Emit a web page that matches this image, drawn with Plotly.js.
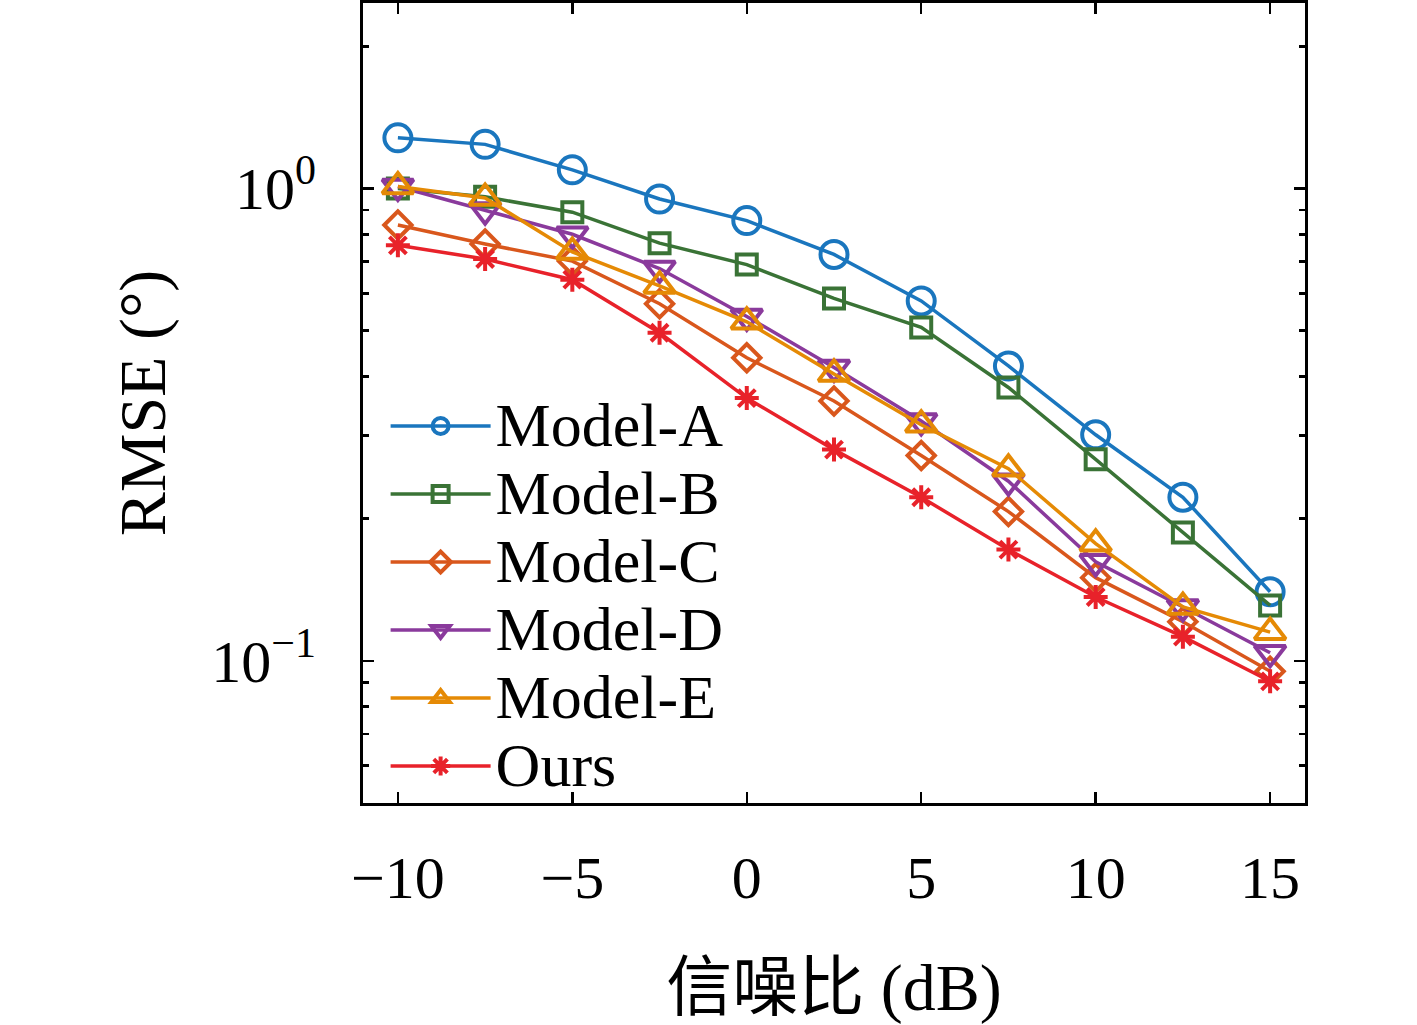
<!DOCTYPE html>
<html><head><meta charset="utf-8">
<script src="https://cdn.plot.ly/plotly-3.0.1.min.js"></script>
<style>html,body{margin:0;padding:0;background:#fff}</style>
</head><body>
<div id="chart" style="width:1417px;height:1025px"></div>
<script>
// ---- data ----
const snr = [-10, -7.5, -5, -2.5, 0, 2.5, 5, 7.5, 10, 12.5, 15];
const modelA = [1.28, 1.24, 1.095, 0.95, 0.855, 0.725, 0.578, 0.421, 0.301, 0.222, 0.140];
const modelB = [1.00, 0.96, 0.891, 0.766, 0.690, 0.585, 0.508, 0.379, 0.267, 0.187, 0.131];
const modelC = [0.837, 0.763, 0.702, 0.570, 0.438, 0.355, 0.272, 0.207, 0.150, 0.121, 0.095];
const modelD = [1.01, 0.90, 0.80, 0.677, 0.536, 0.418, 0.322, 0.240, 0.162, 0.130, 0.104];
const modelE = [1.01, 0.955, 0.734, 0.622, 0.522, 0.405, 0.316, 0.255, 0.177, 0.130, 0.115];
const ours = [0.758, 0.709, 0.641, 0.495, 0.360, 0.280, 0.222, 0.172, 0.1365, 0.1125, 0.0905];
const seriesNames = ['Model-A', 'Model-B', 'Model-C', 'Model-D', 'Model-E', 'Ours'];
const xTickVals = [-10, -5, 0, 5, 10, 15];
const yTickVals = [0.1, 1];
const yTickText = ['10<sup>−1</sup>', '10<sup>0</sup>'];
const yMinorVals = [0.05, 0.06, 0.07, 0.08, 0.09, 0.2, 0.3, 0.4, 0.5, 0.6, 0.7, 0.8, 0.9, 2];
const xTitle = '信噪比 (dB)';
const yTitle = 'RMSE (°)';

// ---- styles ----
const seriesValues = [modelA, modelB, modelC, modelD, modelE, ours];
const styles = [
  {color: '#1A76BE', symbol: 'circle-open', size: 27},
  {color: '#3A7336', symbol: 'square-open', size: 20},
  {color: '#D9571C', symbol: 'diamond-open', size: 21},
  {color: '#8A3A9C', symbol: 'triangle-down-open', size: 27},
  {color: '#E58A05', symbol: 'triangle-up-open', size: 27},
  {color: '#E8222A', symbol: 'asterisk-open', size: 20}
];
const FONT = '"Liberation Serif", "Noto Sans CJK SC", serif';

const traces = seriesValues.map((vals, i) => ({
  type: 'scatter',
  mode: 'lines+markers',
  x: snr,
  y: vals,
  name: '<span style="font-size:62px">' + seriesNames[i] + '</span>',
  line: {color: styles[i].color, width: 3.5},
  marker: {symbol: styles[i].symbol, size: styles[i].size, color: styles[i].color,
           line: {color: styles[i].color, width: 4}}
}));

const layout = {
  width: 1417, height: 1025,
  margin: {l: 363, r: 112, t: 3, b: 222},
  paper_bgcolor: '#fff', plot_bgcolor: '#fff',
  font: {family: FONT, color: '#000', size: 60},
  showlegend: true,
  legend: {
    x: 0.024, y: 0.52, xanchor: 'left', yanchor: 'top',
    bgcolor: 'rgba(255,255,255,0)', borderwidth: 0,
    font: {family: FONT, size: 50, color: '#000'},
    itemwidth: 100, tracegroupgap: 0
  },
  xaxis: {
    range: [-11, 16],
    tickmode: 'array', tickvals: xTickVals,
    ticks: 'inside', ticklen: 11, tickwidth: 2.5, tickcolor: '#000',
    showline: true, linewidth: 3, linecolor: '#000', mirror: 'ticks',
    showgrid: false, zeroline: false,
    tickfont: {family: FONT, size: 60},
    ticklabelstandoff: 20,
    title: {text: xTitle, font: {family: FONT, size: 66}, standoff: 70},
    automargin: false
  },
  yaxis: {
    type: 'log',
    range: [Math.log10(0.05), Math.log10(2.47)],
    tickmode: 'array', tickvals: yTickVals, ticktext: yTickText,
    ticks: 'inside', ticklen: 11, tickwidth: 2.5, tickcolor: '#000',
    minor: {tickvals: yMinorVals, ticks: 'inside', ticklen: 6, tickwidth: 2.5, tickcolor: '#000', showgrid: false},
    showline: true, linewidth: 3, linecolor: '#000', mirror: 'ticks',
    showgrid: false, zeroline: false,
    tickfont: {family: FONT, size: 60},
    ticklabelstandoff: 32,
    title: {text: yTitle, font: {family: FONT, size: 66}, standoff: 25},
    automargin: false
  }
};

Plotly.newPlot('chart', traces, layout, {displayModeBar: false, staticPlot: true});
</script>
</body></html>
